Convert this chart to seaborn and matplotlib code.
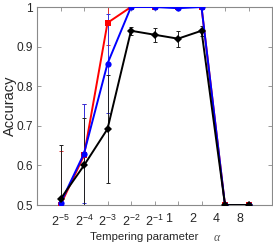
import numpy as np
import pandas as pd
import seaborn as sns
import matplotlib.pyplot as plt
from matplotlib.transforms import ScaledTranslation

# tempering parameter alpha (log2 spaced)
alphas = [2**-5, 2**-4, 2**-3, 2**-2, 2**-1, 1, 2, 4, 8]
tick_labels = ['$2^{-5}$', '$2^{-4}$', '$2^{-3}$', '$2^{-2}$', '$2^{-1}$', '1', '2', '4', '8']

# accuracy per method
red_acc = [0.500, 0.625, 0.960, 1.000, 1.000, 1.000, 1.000, 0.500, 0.500]
red_err = [0.137, 0.130, 0.056, 0.000, 0.000, 0.000, 0.000, 0.000, 0.000]
blue_acc = [0.505, 0.630, 0.857, 1.000, 1.000, 0.997, 1.000, 0.500, 0.500]
blue_err = [0.010, 0.125, 0.125, 0.000, 0.000, 0.000, 0.000, 0.000, 0.000]
black_acc = [0.515, 0.600, 0.692, 0.940, 0.930, 0.920, 0.940, 0.500, 0.500]
black_err = [0.137, 0.120, 0.137, 0.010, 0.018, 0.020, 0.012, 0.000, 0.000]

series = ['red', 'blue', 'black']
df = pd.concat([
    pd.DataFrame({'alpha': alphas, 'acc': red_acc, 'method': 'red'}),
    pd.DataFrame({'alpha': alphas, 'acc': blue_acc, 'method': 'blue'}),
    pd.DataFrame({'alpha': alphas, 'acc': black_acc, 'method': 'black'}),
])

sns.set_style('ticks')
plt.rcParams['font.family'] = ['Liberation Sans', 'DejaVu Sans']
plt.rcParams['mathtext.fontset'] = 'custom'
plt.rcParams['mathtext.rm'] = 'Liberation Sans'
plt.rcParams['mathtext.it'] = 'Liberation Sans:italic'

fig = plt.figure(figsize=(2.73, 2.45), dpi=100)
ax = fig.add_axes([37/273, 40/245, 235/273, 198/245])

colors = {'red': '#ff0000', 'blue': '#0000ff', 'black': '#000000'}
errs = {'red': red_err, 'blue': blue_err, 'black': black_err}
accs = {'red': red_acc, 'blue': blue_acc, 'black': black_acc}
ecolors = {'red': '#e03030', 'blue': '#3030e0', 'black': '#202020'}

#error bars first, lines on top
for s in series:
    ax.errorbar(alphas, accs[s], yerr=errs[s], fmt='none', ecolor=ecolors[s],
                elinewidth=0.7, capsize=1.6, capthick=0.7, clip_on=True, zorder=2)

sns.lineplot(data=df, x='alpha', y='acc', hue='method', style='method',
             hue_order=series, style_order=series, palette=colors,
             markers={'red': 's', 'blue': 'o', 'black': 'D'}, dashes=False,
             markersize=4.5, markeredgewidth=0, linewidth=1.4,
             legend=False, ax=ax, zorder=3)

ax.set_xscale('log', base=2)
ax.set_xlim(2**-6, 2**4)
ax.set_ylim(0.5, 1.0)
ax.set_xticks(alphas)
ax.set_xticklabels(tick_labels)
ax.minorticks_off()
ax.set_yticks([0.5, 0.6, 0.7, 0.8, 0.9, 1.0])
ax.set_yticklabels(['0.5', '0.6', '0.7', '0.8', '0.9', '1'])

#MATLAB-like box with inward ticks
for sp in ax.spines.values():
    sp.set_visible(True)
    sp.set_color('#8a8a8a')
    sp.set_linewidth(0.8)
ax.tick_params(direction='in', length=3, width=0.6, color='#8a8a8a',
               top=True, right=True, labelcolor='#262626')
ax.tick_params(axis='y', labelsize=8.6, pad=3)
ax.tick_params(axis='x', labelsize=9, pad=6)

# the last labels sit a little left of their ticks in the original
for lab in ax.get_xticklabels()[5:]:
    lab.set_transform(lab.get_transform() + ScaledTranslation(-9/100, 0, fig.dpi_scale_trans))

ax.set_xlabel('Tempering parameter', fontsize=8.2, color='#262626')
ax.xaxis.set_label_coords(0.457, -0.138)
ax.text(0.766, -0.165, '\u03b1', transform=ax.transAxes, fontsize=8.5,
        family=['Liberation Serif'], style='italic', color='#555555', ha='center', va='center')
ax.set_ylabel('Accuracy', fontsize=10.5, color='#262626')
ax.yaxis.set_label_coords(-0.085, 0.5)

plt.savefig('out.png', dpi=100)
